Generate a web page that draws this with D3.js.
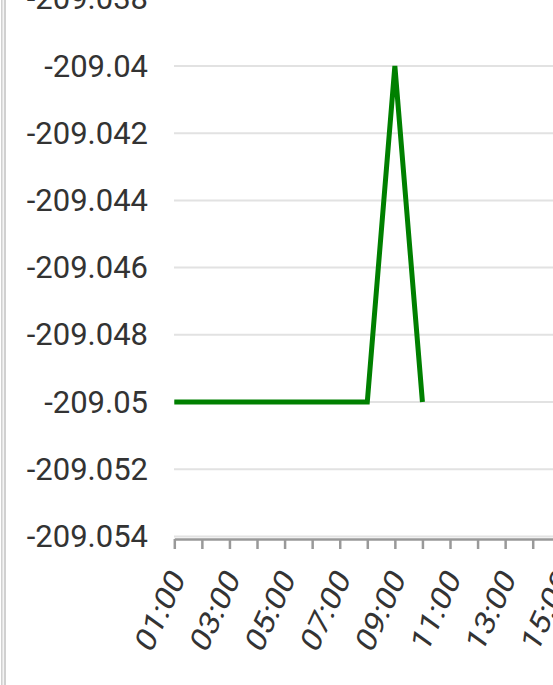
<!DOCTYPE html>
<html><head><meta charset="utf-8">
<script src="https://cdn.jsdelivr.net/npm/d3@7"></script>
<style>html,body{margin:0;padding:0;background:#fff;overflow:hidden}svg{display:block}</style>
</head><body>
<script>
const hours = [1,2,3,4,5,6,7,8,9,10];
const values = [-209.05,-209.05,-209.05,-209.05,-209.05,-209.05,-209.05,-209.05,-209.04,-209.05];
const yTicks = [-209.038,-209.04,-209.042,-209.044,-209.046,-209.048,-209.05,-209.052,-209.054];
const xTickHours = d3.range(1,25);

const W=553,H=685;
const svg=d3.select("body").append("svg").attr("width",W).attr("height",H);
svg.append("rect").attr("x",1).attr("y",0).attr("width",5).attr("height",H).attr("fill","#d0d0d0");
svg.append("rect").attr("x",2.5).attr("y",0).attr("width",1.5).attr("height",H).attr("fill","#f4f4f4");

const x=d3.scaleLinear().domain([1,24]).range([174.3,174.3+23*27.57]);
const y=d3.scaleLinear().domain([-209.054,-209.04]).range([536.4,66]);
const font="Roboto, sans-serif";
const fmt=d=>d3.format(".3~f")(d).replace("\u2212","-");

// grid
svg.append("g").selectAll("line").data(yTicks).join("line")
 .attr("x1",174).attr("x2",W).attr("y1",d=>y(d)).attr("y2",d=>y(d))
 .attr("stroke","#e2e2e2").attr("stroke-width",2);

// y labels
svg.append("g").selectAll("text").data(yTicks).join("text")
 .attr("x",148).attr("y",d=>y(d)).attr("text-anchor","end").attr("dominant-baseline","central")
 .attr("font-family",font).attr("font-size",31).attr("fill","#333")
 .text(fmt);

// x axis
const axisY=539;
const xa=svg.append("g").attr("transform",`translate(0,${axisY})`)
 .call(d3.axisBottom(x).tickValues(xTickHours).tickSize(10).tickSizeOuter(0).tickFormat(d=>d%2===1?String(d).padStart(2,"0")+":00":""));
xa.select(".domain").attr("stroke","#999").attr("stroke-width",2.5);
xa.selectAll(".tick line").attr("stroke","#999").attr("stroke-width",2.5);
xa.selectAll(".tick text").attr("font-family",font).attr("font-size",28).attr("fill","#333")
 .attr("text-anchor","end").attr("dominant-baseline","central")
 .attr("transform","translate(3,34) scale(1,1.25) rotate(-60)").attr("x",0).attr("y",0).attr("dy",null);

// line
svg.append("path").datum(hours.map((h,i)=>[h,values[i]]))
 .attr("fill","none").attr("stroke","#008000").attr("stroke-width",5).attr("stroke-linejoin","miter")
 .attr("d",d3.line().x(d=>x(d[0])).y(d=>y(d[1])));
</script>
</body></html>
